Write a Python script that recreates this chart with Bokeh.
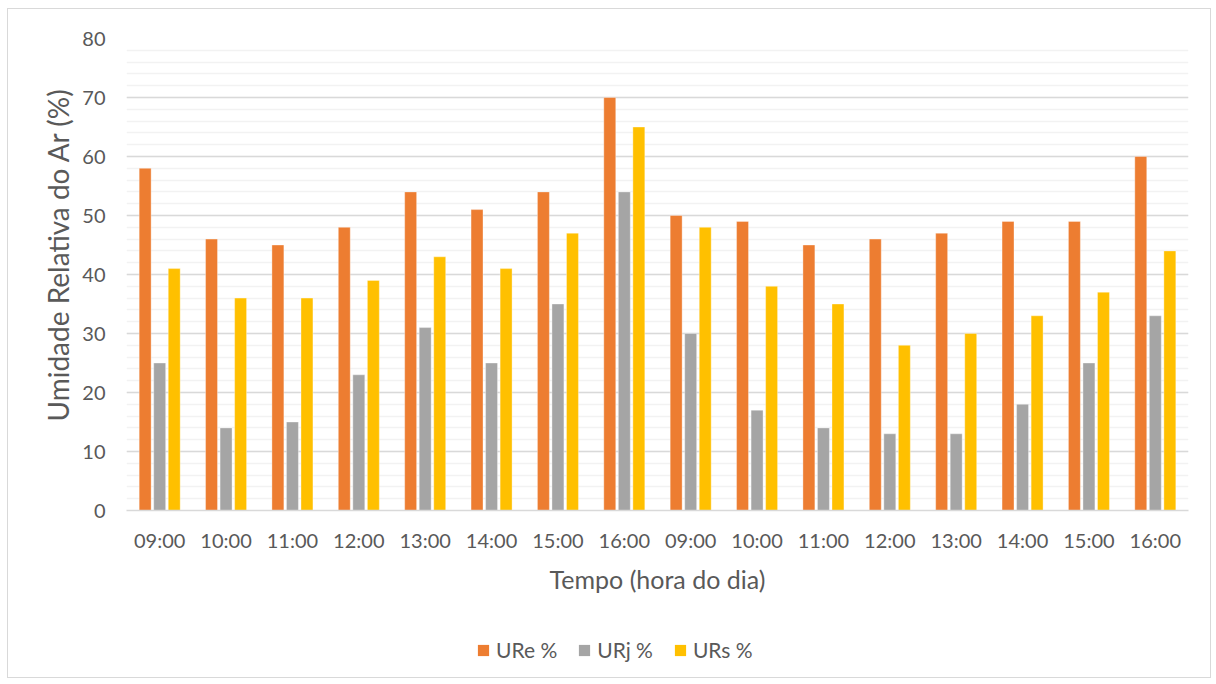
from bokeh.plotting import figure
from bokeh.layouts import column
from bokeh.models import (ColumnDataSource, Legend, LegendItem, FixedTicker,
                          SingleIntervalTicker, Range1d, Title)
from bokeh.transform import dodge
from bokeh.embed import file_html
from bokeh.resources import INLINE

# Hourly readings over two days
hours = ["09:00", "10:00", "11:00", "12:00", "13:00", "14:00", "15:00", "16:00",
         "09:00", "10:00", "11:00", "12:00", "13:00", "14:00", "15:00", "16:00"]
ure = [58, 46, 45, 48, 54, 51, 54, 70, 50, 49, 45, 46, 47, 49, 49, 60]
urj = [25, 14, 15, 23, 31, 25, 35, 54, 30, 17, 14, 13, 13, 18, 25, 33]
urs = [41, 36, 36, 39, 43, 41, 47, 65, 48, 38, 35, 28, 30, 33, 37, 44]
series_names = ["URe %", "URj %", "URs %"]
colors = ["#ED7D31", "#A5A5A5", "#FFC000"]

idx = list(range(len(hours)))
src = ColumnDataSource(dict(x=idx, ure=ure, urj=urj, urs=urs))
fields = ["ure", "urj", "urs"]

FONT = "Lato"
TXT = "#595959"

p = figure(width=1202, height=610, output_backend="svg", toolbar_location=None,
           x_range=Range1d(-0.5, len(hours) - 0.5), y_range=Range1d(0, 80),
           min_border_left=118, min_border_right=22, min_border_top=29,
           min_border_bottom=109)
p.outline_line_color = None
p.background_fill_color = "white"
p.border_fill_color = "white"

offsets = [-0.219, 0.0, 0.219]
for f, off, c in zip(fields, offsets, colors):
    p.vbar(x=dodge("x", off, range=p.x_range), top=f, width=0.18,
           source=src, fill_color=c, line_color="white", line_alpha=0.35,
           line_width=1)

# y axis
p.yaxis.ticker = SingleIntervalTicker(interval=10, num_minor_ticks=5)
p.yaxis.axis_line_color = None
p.yaxis.major_tick_line_color = None
p.yaxis.minor_tick_line_color = None
p.yaxis.major_label_standoff = 15
p.yaxis.major_label_text_font = FONT
p.yaxis.major_label_text_font_size = "20px"
p.yaxis.major_label_text_color = TXT

# vertical axis title, anchored near the bottom of the plotting area
ytitle = Title(text="Umidade Relativa do Ar (%)", align="left", offset=89,
               text_font=FONT, text_font_size="28px", text_font_style="normal",
               text_color=TXT, standoff=9)
p.add_layout(ytitle, "left")

# x axis
p.xaxis.ticker = FixedTicker(ticks=idx)
p.xaxis.major_label_overrides = {i: h for i, h in zip(idx, hours)}
p.xaxis.axis_line_color = "#D9D9D9"
p.xaxis.axis_line_width = 1.5
p.xaxis.major_tick_line_color = None
p.xaxis.minor_tick_line_color = None
p.xaxis.major_label_standoff = 11
p.xaxis.major_label_text_font = FONT
p.xaxis.major_label_text_font_size = "20px"
p.xaxis.major_label_text_color = TXT
p.xaxis.axis_label = "Tempo (hora do dia)"
p.xaxis.axis_label_text_font = FONT
p.xaxis.axis_label_text_font_size = "25px"
p.xaxis.axis_label_text_font_style = "normal"
p.xaxis.axis_label_text_color = TXT
p.xaxis.axis_label_standoff = 9

# grid
p.xgrid.grid_line_color = None
p.ygrid.grid_line_color = "#D9D9D9"
p.ygrid.grid_line_width = 1.5
p.ygrid.minor_grid_line_color = "#F2F2F2"
p.ygrid.minor_grid_line_width = 1.5
p.ygrid.level = "underlay"

# legend strip under the chart; its bars sit outside the visible ranges
lg = figure(width=1202, height=58, output_backend="svg", toolbar_location=None,
            x_range=Range1d(-100, -99), y_range=Range1d(500, 501),
            x_axis_type=None, y_axis_type=None,
            min_border_left=0, min_border_right=0, min_border_top=0,
            min_border_bottom=0)
lg.outline_line_color = None
lg.grid.visible = False
lg.border_fill_color = "white"
lg.background_fill_color = "white"
swatches = [lg.vbar(x="x", top=f, width=0.18, source=src, fill_color=c,
                    line_color=None)
            for f, c in zip(fields, colors)]

legend = Legend(items=[LegendItem(label=n, renderers=[r])
                       for n, r in zip(series_names, swatches)],
                orientation="horizontal", location=(350, 15))
legend.label_text_font = FONT
legend.label_text_font_size = "21px"
legend.label_text_color = TXT
legend.glyph_width = 14
legend.glyph_height = 14
legend.spacing = 20
legend.label_standoff = 6
legend.border_line_color = None
legend.background_fill_alpha = 0
legend.margin = 0
legend.padding = 0
lg.add_layout(legend)

page = column(p, lg, spacing=0)
page.margin = (8, 0, 0, 7)
page.styles = {"border": "1px solid #D9D9D9"}

open("out.html", "w").write(file_html(page, INLINE))
